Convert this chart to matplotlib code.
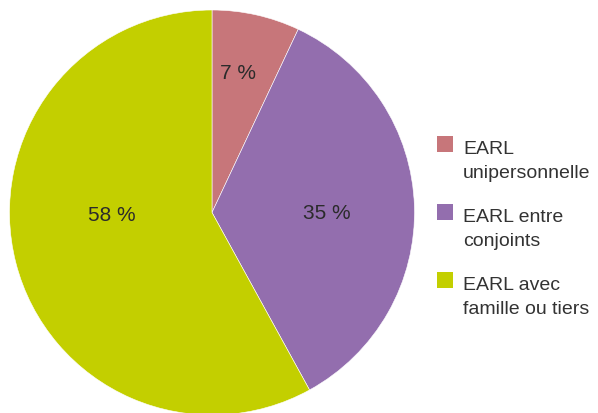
import matplotlib
matplotlib.use("Agg")
import matplotlib.pyplot as plt
from matplotlib.patches import Rectangle

categories = [["EARL", "unipersonnelle"], ["EARL entre", "conjoints"], ["EARL avec", "famille ou tiers"]]
values = [7, 35, 58]
colors = ["#c7767a", "#936eae", "#c3cf00"]
label_pos = [(0.129, 0.693), (0.569, 0.0), (-0.495, -0.01)]

W, H = 598, 414
fig = plt.figure(figsize=(W / 100, H / 100), dpi=100)
cx, cy, r = 212, 213.5, 202.5
ax = fig.add_axes([(cx - r) / W, (H - cy - r) / H, 2 * r / W, 2 * r / H])
wedges, texts = ax.pie(values, colors=colors, startangle=90, counterclock=False,
                       wedgeprops=dict(edgecolor="white", linewidth=0.4))
ax.set_xlim(-1, 1)
ax.set_ylim(-1, 1)
ax.set_aspect("equal")
ax.axis("off")
for v, (x, y) in zip(values, label_pos):
    ax.text(x, y, f"{v} %", ha="center", va="center", fontsize=15,
            family="Liberation Sans", color="#2b2b2b")

sq = 15.5
tops = [137, 205, 273]
for lines, col, t in zip(categories, colors, tops):
    fig.patches.append(Rectangle((437 / W, (H - t - sq) / H), sq / W, sq / H,
                                 transform=fig.transFigure, facecolor=col, edgecolor="none"))
    for i, line in enumerate(lines):
        base = t + 17.5 + i * 23.7
        fig.text(463 / W, (H - base) / H, line, ha="left", va="baseline", fontsize=14,
                 family="Liberation Sans", color="#333333")

fig.savefig("out.png", dpi=100)
